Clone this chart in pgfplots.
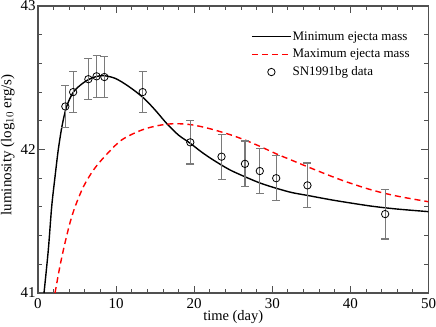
\documentclass[border=0pt]{standalone}
\usepackage{fontspec}
\setmainfont{Liberation Serif}
\usepackage{pgfplots}
\pgfplotsset{compat=1.18}
\definecolor{axgray}{HTML}{505050}
\definecolor{errgray}{HTML}{7A7A7A}
\pgfplotsset{
  lineleg/.style={legend image code/.code={\draw[##1] (0bp,0bp) -- (39bp,0bp);}},
  markleg/.style={legend image code/.code={\path[draw=none] (0bp,0bp) -- (39bp,0bp); \draw[##1] plot coordinates {(19.5bp,0bp)};}},
}
\begin{document}
\begin{tikzpicture}
\begin{axis}[
  name=ax,
  scale only axis,
  width=390.5bp, height=287bp,
  xmin=0, xmax=50, ymin=41, ymax=43,
  xtick={0,10,20,30,40,50},
  ytick={41,42,43},
  minor x tick num=4,
  minor y tick num=4,
  tick align=inside,
  major tick length=7bp,
  minor tick length=4bp,
  axis line style={axgray, line width=1.1bp},
  every tick/.style={axgray, line width=0.9bp},
  /pgf/number format/assume math mode=true,
  ticklabel style={font=\fontsize{15bp}{17bp}\selectfont, inner sep=0pt},
  xticklabel style={yshift=-5.5bp},
  yticklabel style={xshift=-2.3bp},
  xlabel={time (day)},
  ylabel={luminosity (log$_{10}$ erg/s)},
  xlabel style={font=\fontsize{14.5bp}{16bp}\selectfont, at={(axis description cs:0.5,0)}, yshift=-14bp},
  ylabel style={font=\fontsize{15bp}{17bp}\selectfont, at={(axis description cs:-0.0512,0.516)}, anchor=south},
  legend style={draw=none, fill=none, at={(axis description cs:0.5378,0.927)}, anchor=north west,
    font=\fontsize{13bp}{15bp}\selectfont, row sep=2.7bp,
    nodes={inner sep=1bp, text height=10bp, text depth=3bp},
    /tikz/every even column/.append style={column sep=9bp}},
  legend cell align=left,
  clip=true,
]
\addplot[black, line width=1.4bp, smooth, tension=0.5, lineleg] coordinates {
(0.77,41.0) (1.32,41.30) (1.75,41.60) (2.18,41.81) (2.6,42.0) (3.1,42.17) (3.67,42.30) (4.53,42.40)
(5.81,42.465) (7.0,42.50) (8.3,42.515) (9.87,42.496) (11.6,42.44) (13.5,42.36) (15.0,42.275)
(16.5,42.18) (18.0,42.10) (19.5,42.043) (21.0,41.98) (22.5,41.925) (24.5,41.86) (26.5,41.81)
(28.5,41.765) (30.5,41.73) (32.5,41.70) (34.5,41.68) (38.0,41.645) (42.6,41.606) (46.0,41.585) (50,41.567)
};
\addlegendentry{Minimum ejecta mass}
\addplot[red, line width=1.4bp, dash pattern=on 6bp off 4bp, smooth, tension=0.5, lineleg] coordinates {
(2.18,41.0) (2.82,41.19) (3.46,41.35) (4.1,41.49) (4.74,41.60) (5.81,41.74) (7.1,41.857)
(8.6,41.955) (10.7,42.066) (13.3,42.136) (15.5,42.168) (17.5,42.18) (19.7,42.172) (22.0,42.145)
(24.5,42.105) (26.5,42.066) (28.5,42.02) (30.5,41.97) (32.5,41.925) (34.5,41.88) (38.7,41.79)
(42.6,41.72) (46.0,41.675) (50,41.636)
};
\addlegendentry{Maximum ejecta mass}
\addplot[only marks, mark=o, mark size=3.7bp, mark options={black, line width=0.8bp}, markleg,
  error bars/.cd, y dir=both, y explicit,
  error bar style={errgray, line width=1.1bp},
  error mark options={rotate=90, mark size=4bp, errgray, line width=1.1bp},
  ] table[x=x, y=y, y error=e] {
x y e
3.5 42.30 0.145
4.5 42.40 0.145
6.45 42.49 0.142
7.5 42.51 0.146
8.5 42.505 0.143
13.4 42.40 0.145
19.5 42.05 0.151
23.5 41.95 0.157
26.5 41.90 0.159
28.4 41.85 0.159
30.5 41.80 0.156
34.5 41.75 0.156
44.45 41.55 0.174
};
\addlegendentry{SN1991bg data}
\end{axis}
\pgfresetboundingbox
\path ([xshift=-38bp,yshift=-34bp]ax.south west) rectangle ([xshift=7.5bp,yshift=6bp]ax.north east);
\end{tikzpicture}
\end{document}
